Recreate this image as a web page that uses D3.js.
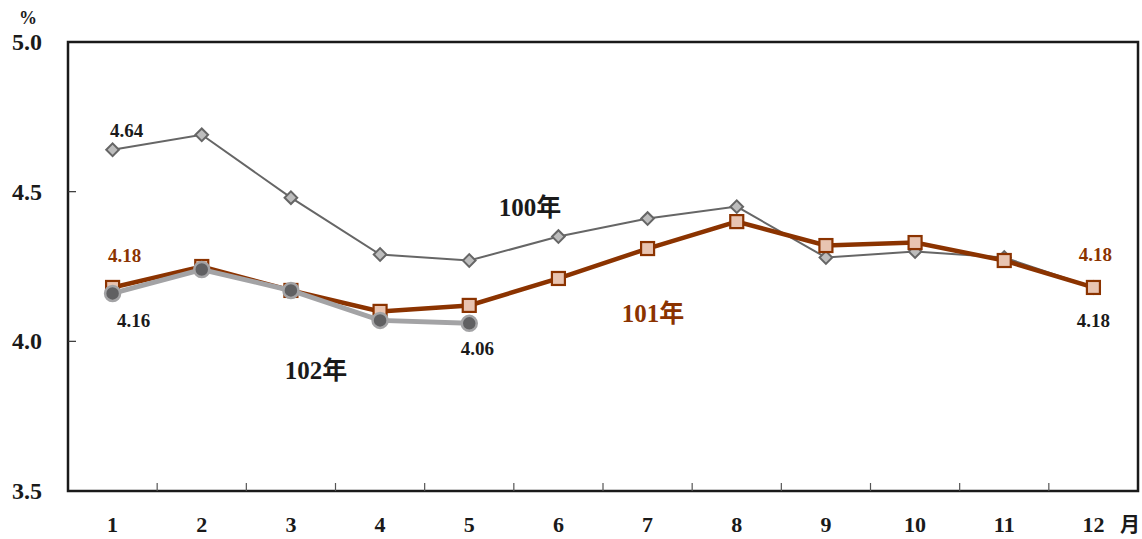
<!DOCTYPE html>
<html>
<head>
<meta charset="utf-8">
<script src="https://cdn.jsdelivr.net/npm/d3@7"></script>
<style>
  html, body { margin: 0; padding: 0; background: #fff; }
  svg { display: block; }
  svg text { font-family: "Liberation Serif", "DejaVu Serif", "Times New Roman", serif, "Noto Sans CJK TC"; font-weight: 700; }
</style>
</head>
<body>
<svg id="chart" width="1142" height="539"></svg>
<script>
// Monthly rate (%) by year
const months = ["1","2","3","4","5","6","7","8","9","10","11","12"];
const y100 = [4.64, 4.69, 4.48, 4.29, 4.27, 4.35, 4.41, 4.45, 4.28, 4.30, 4.28, 4.18];
const y101 = [4.18, 4.25, 4.17, 4.10, 4.12, 4.21, 4.31, 4.40, 4.32, 4.33, 4.27, 4.18];
const y102 = [4.16, 4.24, 4.17, 4.07, 4.06];
const yTicks = [3.5, 4.0, 4.5, 5.0];

const svg = d3.select("#chart");
const plotL = 68, plotR = 1138, plotT = 42, plotB = 491;

const x = d3.scaleBand().domain(months).range([plotL, plotR]);
const y = d3.scaleLinear().domain([3.5, 5.0]).range([plotB, plotT]);
const cx = m => x(m) + x.bandwidth() / 2;

const c100 = "#666666", c101 = "#8b3300", c102 = "#a3a3a5";

// frame
svg.append("rect").attr("x", plotL).attr("y", plotT)
  .attr("width", plotR - plotL).attr("height", plotB - plotT)
  .attr("fill", "none").attr("stroke", "#1a1a1a").attr("stroke-width", 2.5);

// y ticks (inward) and labels
svg.selectAll(".yt").data(yTicks.filter(d => d > 3.5 && d < 5.0)).join("line")
  .attr("x1", plotL).attr("x2", plotL + 8)
  .attr("y1", d => y(d)).attr("y2", d => y(d))
  .attr("stroke", "#333").attr("stroke-width", 1.2);
svg.selectAll(".yl").data(yTicks).join("text")
  .attr("x", 42).attr("y", d => y(d) + 8)
  .attr("text-anchor", "end").attr("font-size", 24).attr("fill", "#1a1a1a")
  .text(d => d.toFixed(1));
svg.append("text").attr("x", 28).attr("y", 24).attr("text-anchor", "middle")
  .attr("font-size", 18).attr("fill", "#1a1a1a").text("%");

// x ticks at category boundaries (inward) and labels
svg.selectAll(".xt").data(months.slice(1)).join("line")
  .attr("x1", d => x(d)).attr("x2", d => x(d))
  .attr("y1", plotB).attr("y2", plotB - 8)
  .attr("stroke", "#555").attr("stroke-width", 1.2);
svg.selectAll(".xl").data(months).join("text")
  .attr("x", d => cx(d)).attr("y", 532)
  .attr("text-anchor", "middle").attr("font-size", 22).attr("fill", "#1a1a1a")
  .text(d => d);
svg.append("text").attr("x", 1130).attr("y", 532).attr("text-anchor", "middle")
  .attr("font-size", 20).attr("fill", "#1a1a1a").text("月");

const line = d3.line().x((d, i) => cx(months[i])).y(d => y(d));

// 100年
svg.append("path").datum(y100).attr("d", line)
  .attr("fill", "none").attr("stroke", c100).attr("stroke-width", 2);
svg.selectAll(".m100").data(y100).join("path")
  .attr("d", d3.symbol(d3.symbolSquare, 80))
  .attr("transform", (d, i) => `translate(${cx(months[i])},${y(d)}) rotate(45)`)
  .attr("fill", "#bdbdbd").attr("stroke", c100).attr("stroke-width", 2);

// 101年
svg.append("path").datum(y101).attr("d", line)
  .attr("fill", "none").attr("stroke", c101).attr("stroke-width", 4.5);
svg.selectAll(".m101").data(y101).join("rect")
  .attr("x", (d, i) => cx(months[i]) - 6.5).attr("y", d => y(d) - 6.5)
  .attr("width", 13).attr("height", 13)
  .attr("fill", "#e8c4b1").attr("stroke", c101).attr("stroke-width", 2.2);

// 102年
svg.append("path").datum(y102).attr("d", line)
  .attr("fill", "none").attr("stroke", c102).attr("stroke-width", 5);
svg.selectAll(".m102").data(y102).join("circle")
  .attr("cx", (d, i) => cx(months[i])).attr("cy", d => y(d)).attr("r", 7.5)
  .attr("fill", "#606062").attr("stroke", c102).attr("stroke-width", 2.5);

// value labels
const vlab = (txt, xx, yy, col) => svg.append("text").attr("x", xx).attr("y", yy)
  .attr("text-anchor", "middle").attr("font-size", 19).attr("fill", col).text(txt);
vlab(y100[0].toFixed(2), cx("1") + 14, y(y100[0]) - 13, "#1a1a1a");
vlab(y101[0].toFixed(2), cx("1") + 12, y(y101[0]) - 25, c101);
vlab(y102[0].toFixed(2), cx("1") + 21, y(y102[0]) + 34, "#1a1a1a");
vlab(y102[4].toFixed(2), cx("5") + 8, y(y102[4]) + 32, "#1a1a1a");
vlab(y101[11].toFixed(2), cx("12") + 2, y(y101[11]) - 26, c101);
vlab(y100[11].toFixed(2), cx("12"), y(y100[11]) + 40, "#1a1a1a");

// series names
const slab = (txt, xx, yy, col) => svg.append("text").attr("x", xx).attr("y", yy)
  .attr("text-anchor", "middle").attr("font-size", 25).attr("fill", col).text(txt);
slab("100年", 530, 216, "#1a1a1a");
slab("101年", 653, 322, c101);
slab("102年", 316, 379, "#1a1a1a");
</script>
</body>
</html>
